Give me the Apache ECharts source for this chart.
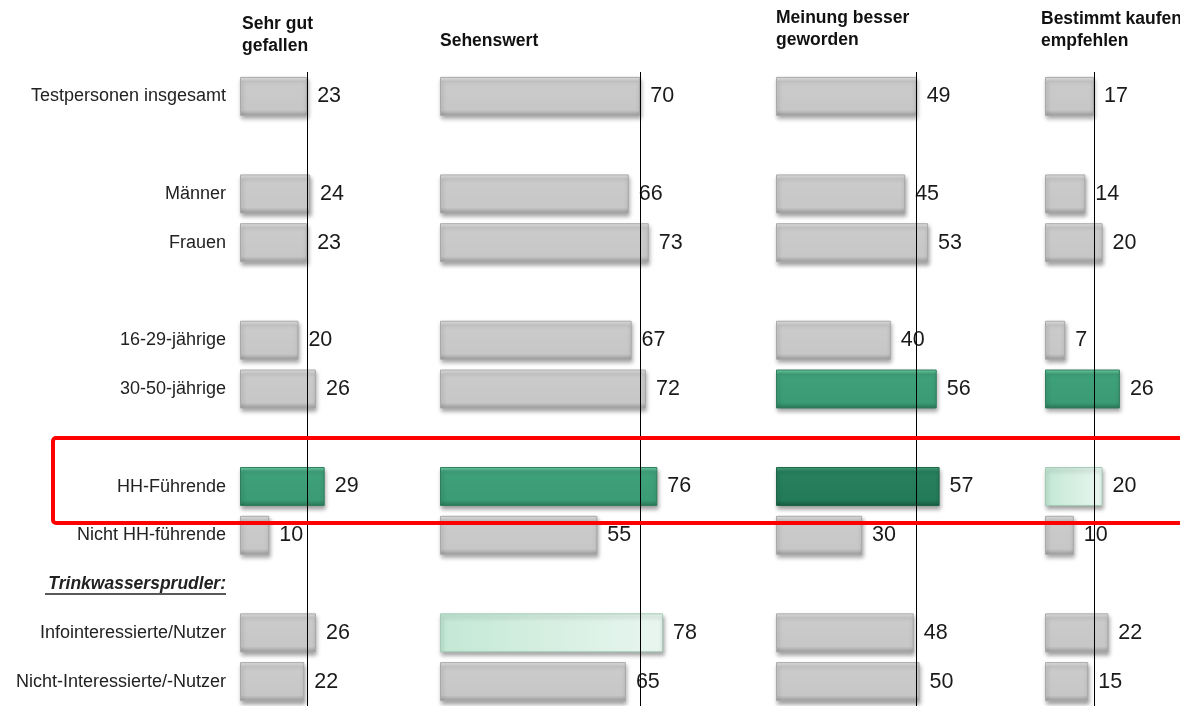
<!DOCTYPE html>
<html>
<head>
<meta charset="utf-8">
<title>Bewertung nach Zielgruppen</title>
<script src="https://cdn.jsdelivr.net/npm/echarts@6/dist/echarts.min.js"></script>
<style>
  html, body { margin: 0; padding: 0; background: #fff; }
  #chart { width: 1180px; height: 706px; }
</style>
</head>
<body>
<div id="chart"></div>
<script>
  // rows of the chart, blank rows are spacers (unique strings so the axis keeps them apart)
  const categories = [
    'Testpersonen insgesamt', ' ', 'Männer', 'Frauen', '  ',
    '16-29-jährige', '30-50-jährige', '   ', 'HH-Führende', 'Nicht HH-führende',
    'Trinkwassersprudler:', 'Infointeressierte/Nutzer', 'Nicht-Interessierte/-Nutzer'
  ]
  const headers = ['Sehr gut\ngefallen', 'Sehenswert', 'Meinung besser\ngeworden', 'Bestimmt kaufen/\nempfehlen']

  const sehrGut    = [23, null, 24, 23, null, 20, 26, null, 29, 10, null, 26, 22]
  const sehenswert = [70, null, 66, 73, null, 67, 72, null, 76, 55, null, 78, 65]
  const meinung    = [49, null, 45, 53, null, 40, 56, null, 57, 30, null, 48, 50]
  const kaufen     = [17, null, 14, 20, null,  7, 26, null, 20, 10, null, 22, 15]

  const panels = [sehrGut, sehenswert, meinung, kaufen]

  // layout per panel: left edge, axis max, px per unit, header position
  const layout = [
    { left: 240, max: 40, scale: 2.92, headTop: 13, headLeft: 242 },
    { left: 440, max: 100, scale: 2.86, headTop: 30, headLeft: 440 },
    { left: 776, max: 100, scale: 2.87, headTop: 7, headLeft: 776 },
    { left: 1045, max: 40, scale: 2.88, headTop: 8, headLeft: 1041 },
  ]

  // highlighted bars: panel index -> row index -> style
  const highlight = {
    0: { 8: 'green' },
    1: { 8: 'green', 11: 'light' },
    2: { 6: 'green', 8: 'dark' },
    3: { 6: 'green', 8: 'light' },
  }

  const FONT = '"Liberation Sans", Arial, sans-serif'
  const TOP = 72
  const HEIGHT = 642

  const vgrad = (stops) => new echarts.graphic.LinearGradient(0, 0, 0, 1,
    stops.map((c, i) => ({ offset: [0, 0.12, 0.85, 1][i], color: c })))

  const styles = {
    gray: {
      color: vgrad(['#e6e6e6', '#cbcbcb', '#c7c7c7', '#9a9a9a']),
      borderColor: '#a9a9a9',
    },
    green: {
      color: vgrad(['#74d6ab', '#3fa17a', '#3a9b74', '#2a7556']),
      borderColor: '#2f7d5c',
    },
    dark: {
      color: vgrad(['#48a882', '#27805f', '#237a59', '#175a40']),
      borderColor: '#1d6447',
    },
    light: {
      color: new echarts.graphic.LinearGradient(0, 0, 1, 0, [
        { offset: 0, color: '#c3e8d4' },
        { offset: 1, color: '#e9f6f0' },
      ]),
      borderColor: '#a3cbb6',
    },
  }

  const chart = echarts.init(document.getElementById('chart'))

  const grid = layout.map(l => ({
    left: l.left, top: TOP, width: l.max * l.scale, height: HEIGHT,
  }))

  const xAxis = layout.map((l, i) => ({
    type: 'value', gridIndex: i, min: 0, max: l.max, show: false,
  }))

  const yAxis = layout.map((l, i) => ({
    type: 'category',
    gridIndex: i,
    data: categories,
    inverse: true,
    axisLine: { show: false },
    axisTick: { show: false },
    splitLine: { show: false },
    axisLabel: {
      show: i === 0,
      margin: 14,
      fontFamily: FONT,
      fontSize: 18,
      color: '#222',
      formatter: v => v === 'Trinkwassersprudler:' ? '{b|' + v + '}' : v,
      rich: {
        b: { fontFamily: FONT, fontSize: 17.5, fontWeight: 'bold', fontStyle: 'italic', color: '#222' },
      },
    },
  }))

  const series = panels.map((vals, i) => ({
    type: 'bar',
    xAxisIndex: i,
    yAxisIndex: i,
    barWidth: 39,
    data: vals.map((v, r) => {
      const st = styles[(highlight[i] || {})[r] || 'gray']
      return {
        value: v,
        itemStyle: {
          color: st.color,
          borderColor: st.borderColor,
          borderWidth: 1,
          shadowColor: 'rgba(0,0,0,0.35)',
          shadowBlur: 4,
          shadowOffsetX: 1,
          shadowOffsetY: 3,
        },
      }
    }),
    label: {
      show: true,
      position: 'right',
      distance: 10,
      fontFamily: FONT,
      fontSize: 21.5,
      color: '#1a1a1a',
    },
    markLine: {
      silent: true,
      symbol: 'none',
      label: { show: false },
      lineStyle: { color: '#000', width: 1, type: 'solid' },
      z: 5,
      data: [{ xAxis: vals[0] }],
    },
  }))

  const graphic = layout.map((l, i) => ({
    type: 'text',
    left: l.headLeft,
    top: l.headTop,
    style: {
      text: headers[i],
      font: 'bold 17.5px ' + FONT,
      lineHeight: 22,
      fill: '#111',
    },
  }))

  // underline for the group heading
  graphic.push({
    type: 'line',
    shape: { x1: 45, y1: 594, x2: 226, y2: 594 },
    style: { stroke: '#222', lineWidth: 1.5 },
  })

  // red frame around the HH-Führende row
  graphic.push({
    type: 'rect',
    z: 100,
    shape: { x: 53, y: 438, width: 1140, height: 85, r: 3 },
    style: { fill: 'none', stroke: '#ff0000', lineWidth: 4 },
  })

  chart.setOption({
    animation: false,
    backgroundColor: '#fff',
    grid,
    xAxis,
    yAxis,
    series,
    graphic,
  })
</script>
</body>
</html>
